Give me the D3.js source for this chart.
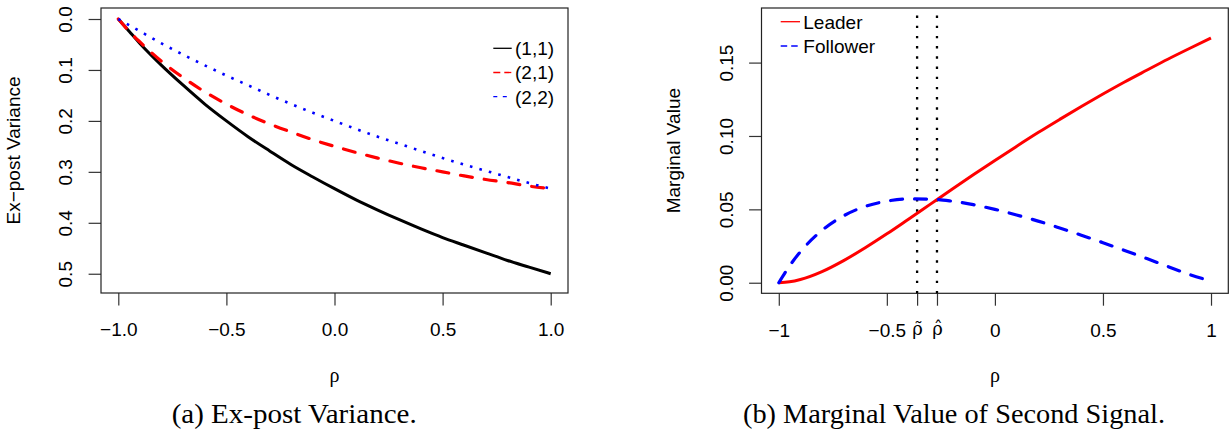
<!DOCTYPE html>
<html>
<head>
<meta charset="utf-8">
<script src="https://cdn.jsdelivr.net/npm/d3@7"></script>
<style>
  html, body { margin: 0; padding: 0; background: #fff; }
  svg { display: block; }
  .sans { font-family: "Liberation Sans", Arial, Helvetica, sans-serif; }
  .serif { font-family: "Liberation Serif", "Times New Roman", serif; }
  .accent { font-family: "DejaVu Serif", "Liberation Serif", serif; }
</style>
</head>
<body>
<svg id="chart" width="1229" height="433"></svg>
<script>
// ---------------- data ----------------
const rho = [-1, -0.95, -0.9, -0.8, -0.7, -0.6, -0.5, -0.4, -0.3, -0.2, -0.1,
             0, 0.1, 0.2, 0.3, 0.4, 0.5, 0.6, 0.7, 0.8, 0.9, 1];

// Panel (a): Ex-post variance
const var11 = [0, 0.024, 0.048, 0.091, 0.130, 0.167, 0.200, 0.231, 0.259, 0.286, 0.310,
               0.333, 0.355, 0.375, 0.394, 0.412, 0.429, 0.444, 0.459, 0.474, 0.487, 0.500];
const var21 = [0, 0.024, 0.045, 0.083, 0.115, 0.143, 0.167, 0.188, 0.206, 0.222, 0.237,
               0.250, 0.262, 0.273, 0.283, 0.292, 0.300, 0.308, 0.315, 0.321, 0.328, 0.333];
const var22 = [0, 0.012, 0.024, 0.048, 0.070, 0.091, 0.111, 0.130, 0.149, 0.167, 0.184,
               0.200, 0.216, 0.231, 0.245, 0.259, 0.273, 0.286, 0.298, 0.310, 0.322, 0.333];
const legendA = ["(1,1)", "(2,1)", "(2,2)"];

// Panel (b): Marginal value of second signal
const leader   = [0, 0.0006, 0.0022, 0.0076, 0.0151, 0.0238, 0.0333, 0.0433, 0.0534, 0.0635, 0.0735,
                  0.0833, 0.0929, 0.1023, 0.1113, 0.1201, 0.1286, 0.1368, 0.1446, 0.1523, 0.1596, 0.1667];
const follower = [0, 0.0115, 0.0211, 0.0357, 0.0456, 0.0520, 0.0556, 0.0571, 0.0570, 0.0556, 0.0532,
                  0.0500, 0.0462, 0.0420, 0.0373, 0.0324, 0.0273, 0.0220, 0.0166, 0.0111, 0.0056, 0.0012];
const legendB = ["Leader", "Follower"];
const rhoTilde = -0.36;
const rhoHat = -0.268;

// tick values / labels
const xTicksA = [-1, -0.5, 0, 0.5, 1];
const xLabelsA = ["\u22121.0", "\u22120.5", "0.0", "0.5", "1.0"];
const yTicksA = [0, 0.1, 0.2, 0.3, 0.4, 0.5];
const yLabelsA = ["0.0", "0.1", "0.2", "0.3", "0.4", "0.5"];
const xTicksB = [-1, -0.5, rhoTilde, rhoHat, 0, 0.5, 1];
const xLabelsB = ["\u22121", "\u22120.5", "\u03C1\u0303", "\u03C1\u0302", "0", "0.5", "1"];
const yTicksB = [0, 0.05, 0.10, 0.15];
const yLabelsB = ["0.00", "0.05", "0.10", "0.15"];

// ---------------- drawing ----------------
const svg = d3.select("#chart");
const FS = 19;
const TICK = 12.4;

function panel(cfg) {
  const g = svg.append("g");
  const x = d3.scaleLinear().domain([-1.08, 1.08]).range([cfg.left, cfg.right]);
  const y = d3.scaleLinear().domain(cfg.ydom).range([cfg.bottom, cfg.top]);

  // x axis
  const xa = g.append("g").attr("transform", `translate(0,${cfg.bottom})`)
    .call(d3.axisBottom(x).tickValues(cfg.xTicks).tickSize(TICK)
      .tickFormat((d, i) => cfg.xLabels[i]));
  xa.select(".domain").remove();
  xa.selectAll(".tick line").attr("stroke", "#333").attr("stroke-width", 1.2);
  xa.selectAll(".tick text").attr("y", 43.4).attr("dy", null)
    .attr("class", "sans").attr("font-size", FS).attr("fill", "#000");
  // Greek accented labels in a serif face
  xa.selectAll(".tick text").filter(function () { return /\u03C1/.test(this.textContent); })
    .attr("class", "accent").attr("font-size", 18).attr("y", 41.5);

  // y axis
  const ya = g.append("g").attr("transform", `translate(${cfg.left},0)`)
    .call(d3.axisLeft(y).tickValues(cfg.yTicks).tickSize(TICK)
      .tickFormat((d, i) => cfg.yLabels[i]));
  ya.select(".domain").remove();
  ya.selectAll(".tick line").attr("stroke", "#333").attr("stroke-width", 1.2);
  ya.selectAll(".tick text").attr("x", null).attr("dy", null)
    .attr("text-anchor", "middle")
    .attr("transform", "translate(-28.8,0) rotate(-90)")
    .attr("class", "sans").attr("font-size", FS).attr("fill", "#000");

  // box
  g.append("rect").attr("x", cfg.left).attr("y", cfg.top)
    .attr("width", cfg.right - cfg.left).attr("height", cfg.bottom - cfg.top)
    .attr("fill", "none").attr("stroke", "#222").attr("stroke-width", 1.2);

  // axis titles
  g.append("text").attr("class", "serif").attr("font-size", 20)
    .attr("text-anchor", "middle")
    .attr("x", (cfg.left + cfg.right) / 2).attr("y", 381.5).text("\u03C1");
  g.append("text").attr("class", "sans").attr("font-size", FS)
    .attr("text-anchor", "middle")
    .attr("transform", `translate(${cfg.left - 81.1},${(cfg.top + cfg.bottom) / 2}) rotate(-90)`)
    .text(cfg.ytitle);

  // caption
  g.append("text").attr("class", "serif").attr("font-size", 27.5)
    .attr("x", cfg.capX).attr("y", 423.3)
    .attr("textLength", cfg.capW).attr("lengthAdjust", "spacingAndGlyphs")
    .text(cfg.caption);

  return { g, x, y };
}

// ---------- Panel (a) ----------
const A = panel({
  left: 101, right: 568, top: 8, bottom: 293,
  ydom: [0.5378, -0.0216],
  xTicks: xTicksA, xLabels: xLabelsA, yTicks: yTicksA, yLabels: yLabelsA,
  ytitle: "Ex\u2212post Variance",
  caption: "(a) Ex-post Variance.", capX: 171.7, capW: 245
});

const lineA = d3.line().curve(d3.curveMonotoneX)
  .x((d, i) => A.x(rho[i])).y(d => A.y(d));

A.g.append("path").datum(var11).attr("d", lineA)
  .attr("fill", "none").attr("stroke", "#000").attr("stroke-width", 3);
A.g.append("path").datum(var21).attr("d", lineA)
  .attr("fill", "none").attr("stroke", "#ff0000").attr("stroke-width", 3.2)
  .attr("stroke-dasharray", "12,12").attr("stroke-linecap", "round");
A.g.append("path").datum(var22).attr("d", lineA)
  .attr("fill", "none").attr("stroke", "#0000ff").attr("stroke-width", 2.6)
  .attr("stroke-dasharray", "2.6,7.2");

// legend (a)
const legA = [
  { label: legendA[0], color: "#000", dash: null },
  { label: legendA[1], color: "#ff0000", dash: "7,4" },
  { label: legendA[2], color: "#0000ff", dash: "4,5.5" }
];
legA.forEach((d, i) => {
  const yy = 48.3 + i * 24.2;
  A.g.append("line").attr("x1", 493.3).attr("x2", 511.7).attr("y1", yy).attr("y2", yy)
    .attr("stroke", d.color).attr("stroke-width", 1.3)
    .attr("stroke-dasharray", d.dash);
  A.g.append("text").attr("class", "sans").attr("font-size", FS)
    .attr("x", 515).attr("y", yy).attr("dy", "0.36em").text(d.label);
});

// ---------- Panel (b) ----------
const B = panel({
  left: 761.5, right: 1228.3, top: 8, bottom: 293.3,
  ydom: [-0.0072, 0.1872],
  xTicks: xTicksB, xLabels: xLabelsB, yTicks: yTicksB, yLabels: yLabelsB,
  ytitle: "Marginal Value",
  caption: "(b) Marginal Value of Second Signal.", capX: 743, capW: 422
});

// vertical dotted reference lines
[rhoTilde, rhoHat].forEach(v => {
  B.g.append("line").attr("x1", B.x(v)).attr("x2", B.x(v))
    .attr("y1", 293.3).attr("y2", 8)
    .attr("stroke", "#000").attr("stroke-width", 2.3)
    .attr("stroke-dasharray", "2.4,7.8");
});

const lineB = d3.line().curve(d3.curveMonotoneX)
  .x((d, i) => B.x(rho[i])).y(d => B.y(d));

B.g.append("path").datum(leader).attr("d", lineB)
  .attr("fill", "none").attr("stroke", "#ff0000").attr("stroke-width", 3);
B.g.append("path").datum(follower).attr("d", lineB)
  .attr("fill", "none").attr("stroke", "#0000ff").attr("stroke-width", 3.2)
  .attr("stroke-dasharray", "12,12").attr("stroke-linecap", "round");

// legend (b)
const legB = [
  { label: legendB[0], color: "#ff0000", dash: null, yy: 21.7 },
  { label: legendB[1], color: "#0000ff", dash: "6.5,4", yy: 46 }
];
legB.forEach(d => {
  B.g.append("line").attr("x1", 780.7).attr("x2", 800).attr("y1", d.yy).attr("y2", d.yy)
    .attr("stroke", d.color).attr("stroke-width", 1.3)
    .attr("stroke-dasharray", d.dash);
  B.g.append("text").attr("class", "sans").attr("font-size", FS)
    .attr("x", 803.3).attr("y", d.yy).attr("dy", "0.36em").text(d.label);
});
</script>
</body>
</html>
